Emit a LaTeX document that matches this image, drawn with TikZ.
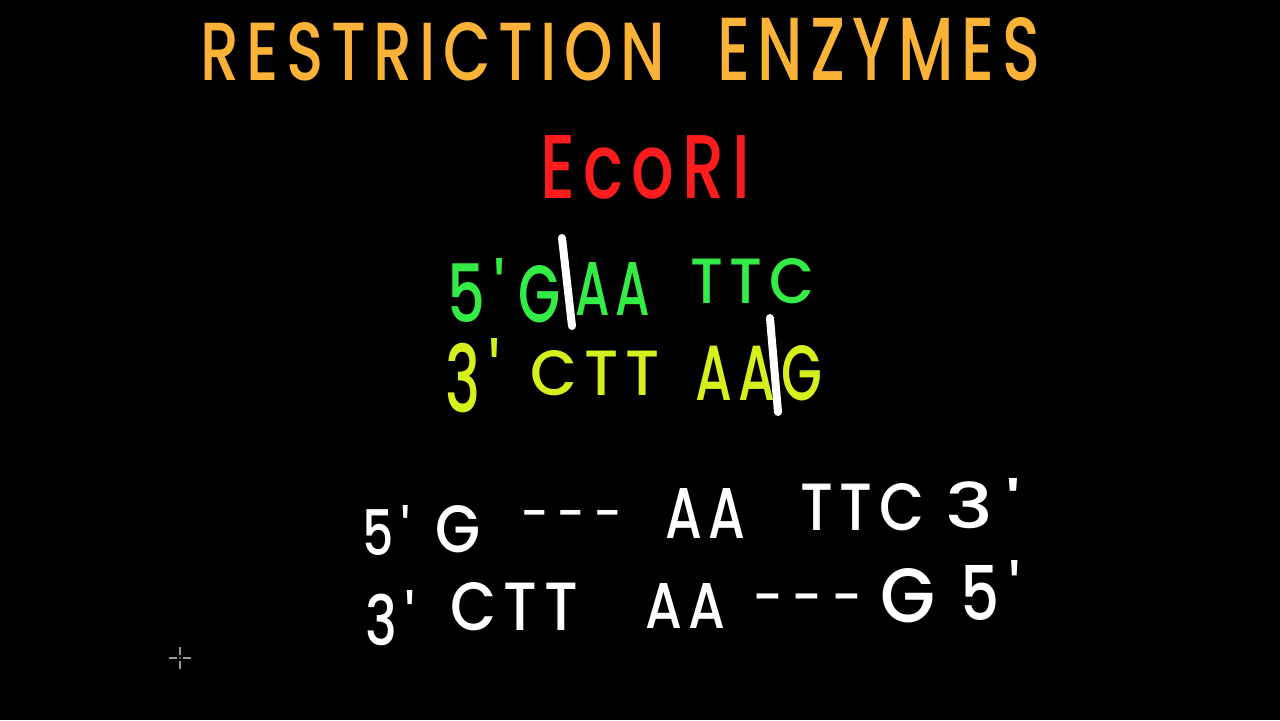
\documentclass[tikz,border=0pt]{standalone}
\usepackage{fontspec}
\setmainfont{Poppins}[UprightFont=* Medium]
\usepackage{graphicx}
\definecolor{titleorange}{RGB}{250,178,55}
\definecolor{ecored}{RGB}{255,28,28}
\definecolor{topgreen}{RGB}{52,236,70}
\definecolor{botyellow}{RGB}{214,240,30}
\newlength\px
\setlength\px{0.5pt}
% handwritten word squeezed into a box of width x height (in px)
\newcommand{\hw}[3]{\resizebox{#1\px}{#2\px}{\addfontfeature{LetterSpace=12}#3}}
\newcommand{\pr}{\textquotesingle}

\begin{document}
\begin{tikzpicture}
	[x=0.5pt, y=-0.5pt,
	every node/.style={inner sep=0pt, outer sep=0pt, anchor=base west},
	title/.style={text=titleorange},
	enzyme/.style={text=ecored},
	upper/.style={text=topgreen},
	lower/.style={text=botyellow},
	piece/.style={text=white},
	cut/.style={white, line width=4pt, line cap=round}]
	\fill[black] (0,0) rectangle (1280,720);
	% title
	\node[title] (restr) at (200,80) {\hw{465}{58}{RESTRICTION}};
	\node[title] (enz) at (717,80) {\hw{323}{63}{ENZYMES}};
	\node[enzyme] (eco) at (540,198) {\hw{210}{63}{EcoRI}};
	% recognition site
	\node[upper] (u5) at (447,322) {\hw{58}{64}{5\,\pr}};
	\node[upper] (uG) at (518,322) {\hw{42}{57}{G}};
	\node[upper] (uAA) at (575,315) {\hw{75}{53}{AA}};
	\node[upper] (uTTC) at (690,303) {\hw{125}{45}{TTC}};
	\node[lower] (l3) at (445,412) {\hw{55}{74}{3\,\pr}};
	\node[lower] (lCTT) at (530,395) {\hw{130}{45}{CTT}};
	\node[lower] (lAAG) at (695,400) {\hw{127}{55}{AAG}};
	\draw[cut] (562,238) -- (572,326);
	\draw[cut] (770,318) -- (778,412);
	% sticky ends
	\node[piece] (a5) at (362,555) {\hw{48}{50}{5\,\pr}};
	\node[piece] (aG) at (435,552) {\hw{45}{47}{G}};
	\node[piece, anchor=center] (adash) at (571,520) {\resizebox{102\px}{!}{-\,-\,-}};
	\node[piece] (aAA) at (665,538) {\hw{80}{50}{AA}};
	\node[piece] (aTTC) at (800,530) {\hw{125}{47}{TTC}};
	\node[piece] (a3) at (945,528) {\hw{75}{50}{3\,\pr}};
	\node[piece] (b3) at (365,645) {\hw{50}{55}{3\,\pr}};
	\node[piece] (bCTT) at (450,630) {\hw{128}{48}{CTT}};
	\node[piece] (bAA) at (645,628) {\hw{80}{45}{AA}};
	\node[piece, anchor=center] (bdash) at (807,605) {\resizebox{110\px}{!}{-\,-\,-}};
	\node[piece] (bG) at (880,622) {\hw{55}{54}{G}};
	\node[piece] (b5) at (960,620) {\hw{60}{60}{5\,\pr}};
	% pointer
	\foreach \dx/\dy in {1/0,-1/0,0/1,0/-1}
		\draw[gray!80, line width=1pt] (180+3*\dx,658+3*\dy) -- (180+11*\dx,658+11*\dy);
	\fill[gray!80] (180,658) circle (1);
\end{tikzpicture}
\end{document}
